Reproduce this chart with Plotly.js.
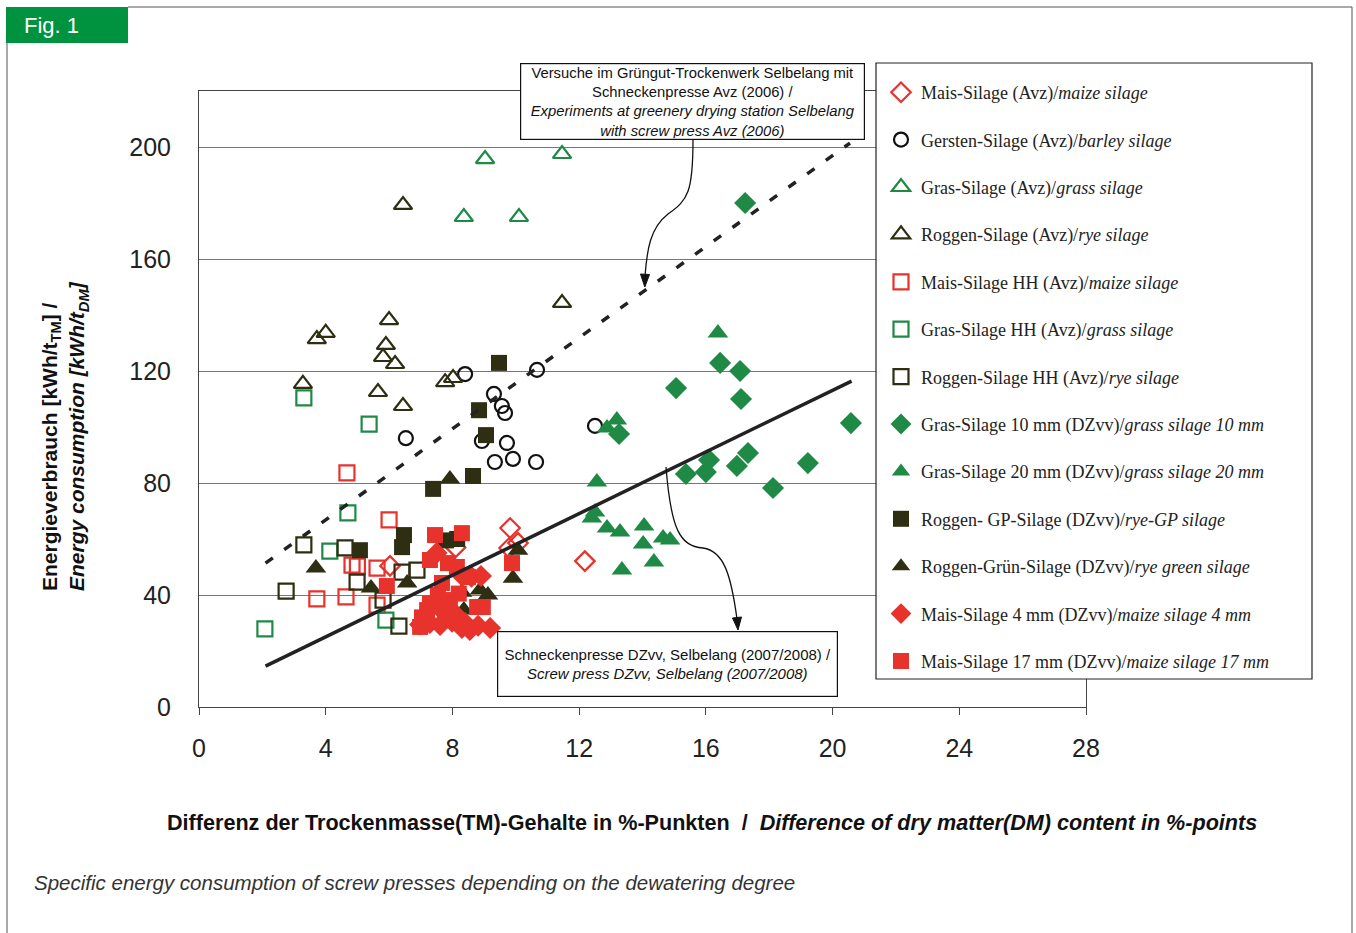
<!DOCTYPE html>
<html><head><meta charset="utf-8">
<script src="https://cdn.plot.ly/plotly-3.0.1.min.js"></script>
<style>html,body{margin:0;padding:0;background:#fff;}#chart{width:1356px;height:933px;}</style>
</head><body><div id="chart"></div>
<script>
// ---- data ----
const maizeAvzX = [9.82, 9.79, 10.07, 12.18, 6.03, 8.1];
const maizeAvzY = [63.9, 56.8, 58.6, 52.1, 50.4, 57];
const barleyAvzX = [8.4, 10.67, 9.31, 9.56, 9.66, 6.53, 8.93, 9.72, 9.34, 9.91, 10.64, 12.5];
const barleyAvzY = [118.9, 120.4, 111.8, 107.5, 105, 96, 95, 94.3, 87.5, 88.6, 87.5, 100.4];
const grassAvzX = [9.03, 11.46, 8.36, 10.1];
const grassAvzY = [195.7, 197.5, 175, 175];
const ryeAvzX = [6.0, 4.0, 3.72, 5.9, 5.81, 6.19, 3.28, 5.65, 6.44, 7.77, 8.02, 6.44, 11.46];
const ryeAvzY = [138.2, 133.6, 131.4, 129.3, 125, 122.5, 115.4, 112.5, 107.5, 116, 117.5, 179.3, 144.3];
const maizeHHX = [4.67, 6.0, 4.83, 5.0, 5.62, 3.72, 4.64, 5.62];
const maizeHHY = [83.6, 66.8, 50.7, 50.3, 49.6, 38.6, 39.3, 36.4];
const grassHHX = [3.31, 5.37, 4.7, 4.13, 2.08, 5.9];
const grassHHY = [110.4, 101, 69.3, 55.7, 27.9, 31];
const ryeHHX = [3.31, 4.61, 4.99, 2.75, 6.41, 6.88, 5.81, 6.31];
const ryeHHY = [57.9, 56.8, 44.6, 41.4, 48.2, 48.9, 38.2, 28.9];
const grass10X = [16.45, 17.08, 15.06, 17.11, 20.58, 13.26, 17.33, 16.1, 19.22, 16.0, 15.37, 16.98, 18.12, 17.24];
const grass10Y = [122.9, 120, 113.9, 110, 101.4, 97.5, 90.7, 88.2, 87.1, 83.9, 83.2, 86.1, 78.2, 180];
const grass20X = [16.38, 13.19, 12.88, 12.56, 12.5, 12.4, 12.88, 13.29, 14.05, 14.02, 14.65, 14.87, 14.36, 13.35];
const grass20Y = [133.6, 102.5, 99.6, 80.4, 69.6, 67.5, 63.9, 62.5, 64.6, 58.2, 60.4, 59.6, 51.8, 48.9];
const ryeGPX = [9.47, 8.84, 9.06, 8.65, 7.39, 5.08, 6.47, 6.41, 7.8, 8.15];
const ryeGPY = [122.9, 106, 97.1, 82.5, 77.9, 56, 61.4, 57.1, 59.5, 60];
const ryeGreenX = [3.69, 5.43, 6.57, 7.92, 9.91, 10.07, 8.3, 8.87, 9.12, 8.36];
const ryeGreenY = [49.6, 42.5, 44.3, 81.4, 46, 56, 41, 41.8, 40, 34.6];
const maize4X = [6.98, 7.29, 7.61, 7.99, 8.3, 8.55, 8.81, 9.19, 7.8, 8.4, 8.3, 8.6, 8.9, 7.5, 8.1];
const maize4Y = [29.5, 30, 29.3, 30.5, 28.2, 27.5, 29, 28.2, 33, 30, 47, 46.5, 46.8, 55, 33];
const maize17X = [7.45, 8.3, 7.29, 7.86, 8.14, 5.93, 8.49, 9.88, 7.29, 7.2, 7.04, 6.98, 7.54, 7.92, 8.78, 8.96, 7.67, 7.6, 8.2];
const maize17Y = [61.4, 62.1, 52.5, 51.4, 50, 43.2, 46.4, 51.4, 37, 34.6, 32, 28.6, 40, 38.2, 35.7, 35.7, 44.3, 36, 40.5];
// trend lines (end points)
const avzLineX = [2.1, 20.55];
const avzLineY = [51.4, 201.4];
const dzvvLineX = [2.1, 20.6];
const dzvvLineY = [14.6, 116.4];

const seriesNames = [
  'Mais-Silage (Avz)/<i>maize silage</i>',
  'Gersten-Silage (Avz)/<i>barley silage</i>',
  'Gras-Silage (Avz)/<i>grass silage</i>',
  'Roggen-Silage (Avz)/<i>rye silage</i>',
  'Mais-Silage HH (Avz)/<i>maize silage</i>',
  'Gras-Silage HH (Avz)/<i>grass silage</i>',
  'Roggen-Silage HH (Avz)/<i>rye silage</i>',
  'Gras-Silage 10 mm (DZvv)/<i>grass silage 10 mm</i>',
  'Gras-Silage 20 mm (DZvv)/<i>grass silage 20 mm</i>',
  'Roggen- GP-Silage (DZvv)/<i>rye-GP silage</i>',
  'Roggen-Grün-Silage (DZvv)/<i>rye green silage</i>',
  'Mais-Silage 4 mm (DZvv)/<i>maize silage 4 mm</i>',
  'Mais-Silage 17 mm (DZvv)/<i>maize silage 17 mm</i>'
];

const RED = '#e8322c', GREEN = '#1f8a45', DARK = '#2e2e12', BLACK = '#111';

function tr(i, xs, ys, symbol, color, size, open) {
  return {
    type: 'scatter', mode: 'markers', x: xs, y: ys, name: seriesNames[i],
    legendgroup: 'g' + i,
    marker: open
      ? {symbol: symbol, size: size, color: color, line: {color: color, width: 2.2}}
      : {symbol: symbol, size: size, color: color, line: {width: 0}},
    hoverinfo: 'x+y'
  };
}

const data = [
  tr(0, maizeAvzX, maizeAvzY, 'diamond-open', RED, 15, true),
  tr(1, barleyAvzX, barleyAvzY, 'circle-open', BLACK, 14, true),
  tr(2, grassAvzX, grassAvzY, 'triangle-up-open', GREEN, 16, true),
  tr(3, ryeAvzX, ryeAvzY, 'triangle-up-open', DARK, 16, true),
  tr(4, maizeHHX, maizeHHY, 'square-open', RED, 15, true),
  tr(5, grassHHX, grassHHY, 'square-open', GREEN, 15, true),
  tr(6, ryeHHX, ryeHHY, 'square-open', DARK, 15, true),
  tr(7, grass10X, grass10Y, 'diamond', GREEN, 17, false),
  tr(8, grass20X, grass20Y, 'triangle-up', GREEN, 18, false),
  tr(9, ryeGPX, ryeGPY, 'square', DARK, 16, false),
  tr(10, ryeGreenX, ryeGreenY, 'triangle-up', DARK, 18, false),
  tr(11, maize4X, maize4Y, 'diamond', RED, 17, false),
  tr(12, maize17X, maize17Y, 'square', RED, 16, false),
  {type: 'scatter', mode: 'lines', x: avzLineX, y: avzLineY, showlegend: false,
   line: {color: '#222', width: 3.5, dash: '9px,14px'}, hoverinfo: 'skip'},
  {type: 'scatter', mode: 'lines', x: dzvvLineX, y: dzvvLineY, showlegend: false,
   line: {color: '#222', width: 3.5}, hoverinfo: 'skip'}
];

// pixel -> paper helpers for decorations
const L = 199, R = 1086, T = 91, B = 707;
const PX = p => (p - L) / (R - L);
const PY = p => (B - p) / (B - T);

const shapes = [
  {type: 'line', xref: 'paper', yref: 'paper', x0: PX(128), x1: PX(1352), y0: PY(7), y1: PY(7), line: {color: '#555', width: 1}},
  {type: 'line', xref: 'paper', yref: 'paper', x0: PX(7), x1: PX(7), y0: PY(43), y1: PY(940), line: {color: '#555', width: 1}},
  {type: 'line', xref: 'paper', yref: 'paper', x0: PX(1352), x1: PX(1352), y0: PY(7), y1: PY(940), line: {color: '#555', width: 1}},
  {type: 'rect', xref: 'paper', yref: 'paper', x0: PX(6), x1: PX(128), y0: PY(7), y1: PY(43), fillcolor: '#00933f', line: {width: 0}},
  {type: 'rect', xref: 'paper', yref: 'paper', layer: 'above', x0: PX(876), x1: PX(1312), y0: PY(63), y1: PY(679), fillcolor: '#fff', line: {color: '#222', width: 1.2}},
  {type: 'path', xref: 'paper', yref: 'paper', layer: 'above',
   path: `M ${PX(693)},${PY(140)} C ${PX(693)},${PY(192)} ${PX(688)},${PY(200)} ${PX(668)},${PY(214)} C ${PX(650)},${PY(228)} ${PX(647)},${PY(250)} ${PX(645)},${PY(276)}`,
   line: {color: '#111', width: 1.3}},
  {type: 'path', xref: 'paper', yref: 'paper', layer: 'above',
   path: `M ${PX(640.5)},${PY(274)} L ${PX(649.5)},${PY(274.5)} L ${PX(644.8)},${PY(287)} Z`,
   fillcolor: '#111', line: {color: '#111', width: 1}},
  {type: 'path', xref: 'paper', yref: 'paper', layer: 'above',
   path: `M ${PX(666)},${PY(467)} C ${PX(671)},${PY(530)} ${PX(680)},${PY(546)} ${PX(703)},${PY(548)} C ${PX(724)},${PY(551)} ${PX(731)},${PY(575)} ${PX(737)},${PY(619)}`,
   line: {color: '#111', width: 1.3}},
  {type: 'path', xref: 'paper', yref: 'paper', layer: 'above',
   path: `M ${PX(732.5)},${PY(618)} L ${PX(741.5)},${PY(617)} L ${PX(738)},${PY(630)} Z`,
   fillcolor: '#111', line: {color: '#111', width: 1}}
];

const sans = 'Liberation Sans, Arial, sans-serif';
const annotations = [
  {xref: 'paper', yref: 'paper', x: PX(22), y: PY(26), xanchor: 'left', yanchor: 'middle', showarrow: false,
   text: 'Fig. 1', font: {family: sans, size: 22, color: '#fff'}},
  {xref: 'paper', yref: 'paper', x: PX(692.5), y: PY(101.5), xanchor: 'center', yanchor: 'middle', showarrow: false,
   text: 'Versuche im Grüngut-Trockenwerk Selbelang mit<br>Schneckenpresse Avz (2006) /<br><i>Experiments at greenery drying station Selbelang<br>with screw press Avz (2006)</i>',
   font: {family: sans, size: 14.8, color: '#111'}, bgcolor: '#fff', bordercolor: '#111', borderwidth: 1.2,
   width: 341, height: 73, borderpad: 1},
  {xref: 'paper', yref: 'paper', x: PX(667.5), y: PY(664), xanchor: 'center', yanchor: 'middle', showarrow: false,
   text: 'Schneckenpresse DZvv, Selbelang (2007/2008) /<br><i>Screw press DZvv, Selbelang (2007/2008)</i>',
   font: {family: sans, size: 15, color: '#111'}, bgcolor: '#fff', bordercolor: '#111', borderwidth: 1.2,
   width: 335, height: 60, borderpad: 2},
  {xref: 'paper', yref: 'paper', x: PX(712), y: PY(822), xanchor: 'center', yanchor: 'middle', showarrow: false,
   text: '<b>Differenz der Trockenmasse(TM)-Gehalte in %-Punkten  /  <i>Difference of dry matter(DM) content in %-points</i></b>',
   font: {family: sans, size: 21.6, color: '#111'}},
  {xref: 'paper', yref: 'paper', x: PX(65), y: PY(436), xanchor: 'center', yanchor: 'middle', showarrow: false, textangle: -90, align: 'left',
   text: '<b>Energieverbrauch [kWh/t<sub>TM</sub>] /</b><br><b><i>Energy consumption [kWh/t<sub>DM</sub>]</i></b>',
   font: {family: sans, size: 21, color: '#111'}},
  {xref: 'paper', yref: 'paper', x: PX(32), y: PY(882), xanchor: 'left', yanchor: 'middle', showarrow: false,
   text: '<i>Specific energy consumption of screw presses depending on the dewatering degree</i>',
   font: {family: sans, size: 20.5, color: '#333'}}
];

const layout = {
  width: 1356, height: 933,
  margin: {l: L, r: 1356 - R, t: T, b: 933 - B, pad: 0},
  paper_bgcolor: '#fff', plot_bgcolor: '#fff',
  font: {family: sans, color: '#222'},
  xaxis: {range: [0, 28], tickvals: [0, 4, 8, 12, 16, 20, 24, 28], ticks: 'outside', ticklen: 7, tickcolor: '#444',
          ticklabelstandoff: 12,
          tickfont: {size: 25, color: '#222'}, showgrid: false, zeroline: false,
          showline: true, linecolor: '#444', linewidth: 1, mirror: true, fixedrange: true},
  yaxis: {range: [0, 220], tickvals: [0, 40, 80, 120, 160, 200], ticks: '', ticklabelstandoff: 22,
          tickfont: {size: 25, color: '#222'}, showgrid: true, gridcolor: '#777', gridwidth: 1, zeroline: false,
          showline: true, linecolor: '#444', linewidth: 1, mirror: true, fixedrange: true},
  showlegend: true,
  legend: {x: PX(881), y: PY(74), xanchor: 'left', yanchor: 'top', bgcolor: 'rgba(0,0,0,0)', borderwidth: 0,
           font: {family: 'Liberation Serif, Times New Roman, serif', size: 18, color: '#222'},
           traceorder: 'grouped', tracegroupgap: 21, itemsizing: 'trace', maxheight: 900},
  shapes: shapes,
  annotations: annotations
};

Plotly.newPlot('chart', data, layout, {displayModeBar: false, staticPlot: true});
</script></body></html>
